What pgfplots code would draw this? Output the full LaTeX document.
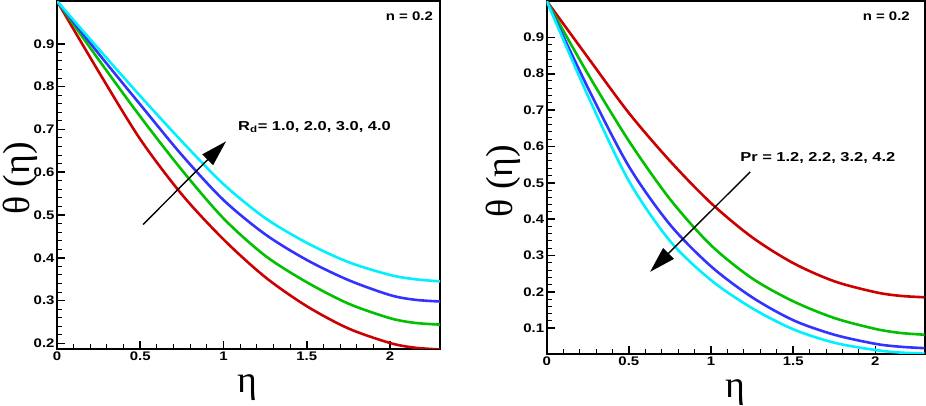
\documentclass[border=0pt]{standalone}
\usepackage{pgfplots}
\pgfplotsset{compat=1.18}
\usetikzlibrary{arrows.meta}
\usepackage{fontspec}
\setmainfont{Liberation Sans}
\newfontfamily\greek{Liberation Serif}
\newcommand\sx[1]{\scalebox{1.2}[1]{#1}}

\definecolor{cRed}{RGB}{204,0,0}
\definecolor{cGreen}{RGB}{0,192,0}
\definecolor{cBlue}{RGB}{51,51,255}
\definecolor{cCyan}{RGB}{0,240,255}

\pgfplotsset{
  panel/.style={
    scale only axis,
    anchor=south west,
    axis line style={line width=2.2bp},
    xmin=0, xmax=2.3,
    ymax=1.0,
    xtick={0,0.5,1,1.5,2},
    xticklabels={\sx{0},\sx{0.5},\sx{1},\sx{1.5},\sx{2}},
    minor x tick num=4,
    minor y tick num=4,
    tick align=inside,
    xtick pos=bottom, ytick pos=left,
    major tick length=8bp, minor tick length=5bp,
    every major tick/.style={line width=1.6bp, black},
    every minor tick/.style={line width=1bp, black},
    tick label style={font=\fontsize{12.5}{14}\selectfont\bfseries},
    yticklabel style={xshift=1bp},
    xticklabel style={yshift=1bp},
    ylabel={\greek θ (η)},
    xlabel={\greek η},
    ylabel style={font=\fontsize{38}{42}\selectfont, anchor=center},
    xlabel style={font=\fontsize{38}{42}\selectfont, anchor=center},
    every axis plot/.append style={line width=2.6bp, smooth, no markers},
  }
}

\begin{document}
\begin{tikzpicture}
\useasboundingbox (0bp,0bp) rectangle (926bp,406bp);

\begin{axis}[panel,
    at={(57bp,57bp)},
    width=383bp, height=348bp,
    ymin=0.187,
    ytick={0.2,0.3,0.4,0.5,0.6,0.7,0.8,0.9},
    yticklabels={\sx{0.2},\sx{0.3},\sx{0.4},\sx{0.5},\sx{0.6},\sx{0.7},\sx{0.8},\sx{0.9}},
    ylabel style={at={(axis description cs:-0.097,0.49)}},
    xlabel style={at={(axis description cs:0.496,-0.111)}},
]
\addplot[cRed] coordinates {(0,1)(0.25,0.835)(0.5,0.677)(0.75,0.548)(1,0.443)(1.25,0.355)(1.5,0.287)(1.75,0.235)(2,0.201)(2.15,0.19)(2.3,0.186)};
\addplot[cGreen] coordinates {(0,1)(0.25,0.863)(0.5,0.73)(0.75,0.605)(1,0.492)(1.25,0.405)(1.5,0.343)(1.75,0.293)(2,0.259)(2.15,0.248)(2.3,0.244)};
\addplot[cBlue] coordinates {(0,1)(0.25,0.877)(0.5,0.758)(0.75,0.64)(1,0.535)(1.25,0.455)(1.5,0.395)(1.75,0.348)(2,0.313)(2.15,0.302)(2.3,0.298)};
\addplot[cCyan] coordinates {(0,1)(0.25,0.888)(0.5,0.778)(0.75,0.672)(1,0.572)(1.25,0.493)(1.5,0.435)(1.75,0.39)(2,0.36)(2.15,0.35)(2.3,0.345)};
\draw[line width=1.4bp, -{Triangle[length=26bp,width=15bp]}] (axis cs:0.517,0.478) -- (axis cs:1.015,0.672);
\node[anchor=west, font=\fontsize{13}{15}\selectfont\bfseries, inner sep=0] at (axis cs:1.087,0.705) {\scalebox{1.27}[1]{R\textsubscript{d}= 1.0, 2.0, 3.0, 4.0}};
\node[anchor=east, font=\fontsize{12.5}{14}\selectfont\bfseries, inner sep=0] at (axis description cs:0.982,0.957) {\sx{n = 0.2}};
\end{axis}

\begin{axis}[panel,
    at={(546.7bp,52bp)},
    width=378bp, height=353bp,
    ymin=0.029,
    ytick={0.1,0.2,0.3,0.4,0.5,0.6,0.7,0.8,0.9},
    yticklabels={\sx{0.1},\sx{0.2},\sx{0.3},\sx{0.4},\sx{0.5},\sx{0.6},\sx{0.7},\sx{0.8},\sx{0.9}},
    ylabel style={at={(axis description cs:-0.116,0.49)}},
    xlabel style={at={(axis description cs:0.498,-0.108)}},
]
\addplot[cRed] coordinates {(0,1)(0.25,0.845)(0.5,0.692)(0.75,0.560)(1,0.444)(1.25,0.35)(1.5,0.279)(1.75,0.229)(2,0.199)(2.15,0.189)(2.3,0.185)};
\addplot[cGreen] coordinates {(0,1)(0.25,0.80)(0.5,0.615)(0.75,0.455)(1,0.328)(1.25,0.237)(1.5,0.174)(1.75,0.128)(2,0.098)(2.15,0.087)(2.3,0.082)};
\addplot[cBlue] coordinates {(0,1)(0.25,0.762)(0.5,0.545)(0.75,0.385)(1,0.27)(1.25,0.185)(1.5,0.122)(1.75,0.082)(2,0.057)(2.15,0.049)(2.3,0.045)};
\addplot[cCyan] coordinates {(0,1)(0.25,0.74)(0.5,0.505)(0.75,0.34)(1,0.232)(1.25,0.155)(1.5,0.097)(1.75,0.06)(2,0.04)(2.15,0.033)(2.3,0.03)};
\draw[line width=1.4bp, -{Triangle[length=26bp,width=15bp]}] (axis cs:1.238,0.53) -- (axis cs:0.629,0.255);
\node[anchor=west, font=\fontsize{13}{15}\selectfont\bfseries, inner sep=0] at (axis cs:1.177,0.568) {\scalebox{1.27}[1]{Pr = 1.2, 2.2, 3.2, 4.2}};
\node[anchor=east, font=\fontsize{12.5}{14}\selectfont\bfseries, inner sep=0] at (axis description cs:0.961,0.957) {\sx{n = 0.2}};
\end{axis}
\end{tikzpicture}
\end{document}
